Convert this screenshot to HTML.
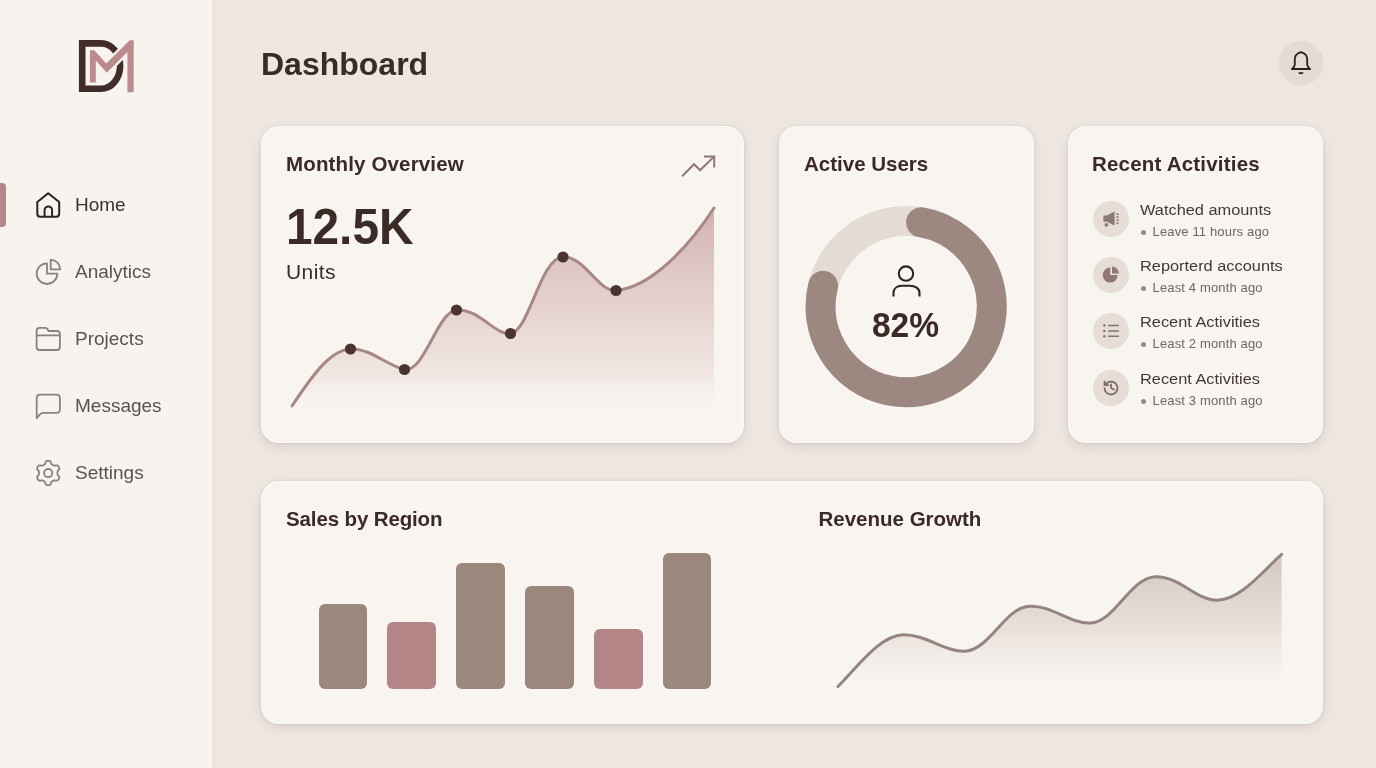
<!DOCTYPE html>
<html><head><meta charset="utf-8">
<style>
*{margin:0;padding:0;box-sizing:border-box}
html,body{width:1376px;height:768px;overflow:hidden}
body{will-change:transform;background:#ede6e1;font-family:"Liberation Sans",Arial,sans-serif;color:#3a2b29;position:relative}
.abs{position:absolute}
svg{overflow:visible}
#side{left:0;top:0;width:209px;height:768px;background:#f7f4ef;box-shadow:3.5px 0 0 #fbf3ee,4.5px 0 2px rgba(150,120,110,0.07)}
.nav{position:absolute;left:75px;font-size:19px;color:#5d5250;white-space:nowrap;line-height:22px}
.card{position:absolute;background:#f8f4f0;border-radius:18px;box-shadow:0 4px 10px rgba(120,90,80,0.15),0 0 2.5px rgba(110,90,80,0.16),inset 0 0 0 1px rgba(255,251,247,0.6)}
.title{position:absolute;font-size:20.5px;font-weight:bold;color:#3a2a28;white-space:nowrap;line-height:24px}
.act{position:absolute;left:1068px;width:255px;height:40px}
.act .ic{position:absolute;left:25px;top:0;width:36px;height:36px;border-radius:50%;background:#e6ddd6}
.act .ic svg{position:absolute;left:0;top:0}
.act .t1{position:absolute;left:72px;top:0.4px;font-size:15.5px;transform:scaleX(1.055);transform-origin:0 0;color:#453835;white-space:nowrap}
.act .t2{position:absolute;left:84.5px;top:23.4px;font-size:13px;letter-spacing:0.15px;color:#716562;white-space:nowrap}
.act .t2 i{position:absolute;left:-12px;top:6px;width:5px;height:5px;border-radius:50%;background:#958986}
.bar{position:absolute;width:48.5px;border-radius:6px;background:#9c877d}
.bar.p{background:#b48587}
</style></head>
<body>
<div id="side" class="abs"></div>
<div class="abs" style="left:0;top:183px;width:6px;height:43.6px;background:#b5878a;border-radius:0 4px 4px 0"></div>
<svg class="abs" style="left:0;top:0" width="212" height="768" viewBox="0 0 212 768">
  <!-- logo -->
  <path d="M82.2 43.35 H101 A19.1 22.67 0 0 1 101 88.7 H82.2 Z" fill="none" stroke="#412c29" stroke-width="6.6" stroke-linejoin="miter"/>
  <path d="M106.5 68.2 L128.5 46.2" stroke="#f7f4ef" stroke-width="11.5" fill="none"/>
  <path d="M89.9 50.3 L94.3 50.3 L106.3 63.6 L129.7 40.3 L133.7 40.3 L133.7 92.2 L127.4 92.2 L127.4 52.1 L106.8 72.7 L95.8 60.6 L95.8 82.5 L89.9 82.5 Z" fill="#bb8b8d"/>
  <!-- home -->
  <g fill="none" stroke="#2e2220" stroke-width="2" stroke-linejoin="round">
    <path d="M37.3 202 L48.2 193.2 L59.2 202 V213.7 Q59.2 216.7 56.2 216.7 H40.3 Q37.3 216.7 37.3 213.7 Z"/>
    <path d="M44.6 216.7 V210.2 A3.75 3.75 0 0 1 52.1 210.2 V216.7"/>
  </g>
  <g fill="none" stroke="#8c817e" stroke-width="1.8" stroke-linejoin="round">
    <!-- analytics -->
    <path d="M47 263.4 A10.3 10.3 0 1 0 57.3 273.7 H47 Z"/>
    <path d="M50.7 259.6 A9.8 9.8 0 0 1 60.2 269.4 H50.7 Z"/>
    <!-- projects -->
    <path d="M36.6 331 Q36.6 327.9 39.6 327.9 H45.5 Q46.8 327.9 47.5 329 L48.6 331 H56.9 Q59.9 331 59.9 334 V347 Q59.9 350 56.9 350 H39.6 Q36.6 350 36.6 347 Z"/>
    <path d="M36.6 335.4 H59.9"/>
    <!-- messages -->
    <path d="M36.7 418.2 V398.2 Q36.7 394.7 40.2 394.7 H56.4 Q59.9 394.7 59.9 398.2 V409.4 Q59.9 412.9 56.4 412.9 H43.5 Q41.2 412.9 39.8 414.6 Z"/>
    <!-- settings -->
    <path d="M48.2 460.9 L49.0 460.9 L49.8 461.0 L50.5 461.5 L51.0 462.7 L51.3 463.8 L51.8 464.4 L52.3 464.7 L52.8 465.0 L53.3 465.3 L53.9 465.6 L54.6 465.7 L55.8 465.4 L57.0 465.3 L57.8 465.7 L58.3 466.3 L58.7 466.9 L59.1 467.6 L59.3 468.4 L59.3 469.2 L58.5 470.2 L57.7 471.1 L57.5 471.8 L57.4 472.4 L57.5 473.0 L57.4 473.6 L57.5 474.2 L57.7 474.9 L58.5 475.8 L59.3 476.8 L59.3 477.6 L59.1 478.4 L58.7 479.1 L58.3 479.7 L57.8 480.3 L57.0 480.7 L55.8 480.6 L54.6 480.3 L53.9 480.4 L53.3 480.7 L52.8 481.0 L52.3 481.3 L51.8 481.6 L51.3 482.2 L51.0 483.3 L50.5 484.5 L49.8 485.0 L49.0 485.1 L48.2 485.1 L47.4 485.1 L46.6 485.0 L45.9 484.5 L45.4 483.3 L45.1 482.2 L44.6 481.6 L44.1 481.3 L43.6 481.0 L43.1 480.7 L42.5 480.4 L41.8 480.3 L40.6 480.6 L39.4 480.7 L38.6 480.3 L38.1 479.7 L37.7 479.1 L37.3 478.4 L37.1 477.6 L37.1 476.8 L37.9 475.8 L38.7 474.9 L38.9 474.2 L39.0 473.6 L39.0 473.0 L39.0 472.4 L38.9 471.8 L38.7 471.1 L37.9 470.2 L37.1 469.2 L37.1 468.4 L37.3 467.6 L37.7 466.9 L38.1 466.3 L38.6 465.7 L39.4 465.3 L40.6 465.4 L41.8 465.7 L42.5 465.6 L43.1 465.3 L43.6 465.0 L44.1 464.7 L44.6 464.4 L45.1 463.8 L45.4 462.7 L45.9 461.5 L46.6 461.0 L47.4 460.9 Z"/>
    <circle cx="48.2" cy="473.1" r="4.1"/>
  </g>
</svg>
<div class="nav" style="top:194px;color:#3d302d">Home</div>
<div class="nav" style="top:261px">Analytics</div>
<div class="nav" style="top:328px">Projects</div>
<div class="nav" style="top:395px">Messages</div>
<div class="nav" style="top:462px">Settings</div>

<div class="abs" style="left:261px;top:46px;font-size:32px;font-weight:bold;color:#3a2a28">Dashboard</div>

<div class="abs" style="left:1279px;top:41px;width:44px;height:44px;border-radius:50%;background:#e3dbd5;box-shadow:0 0 1px rgba(120,100,90,0.08)"></div>
<svg class="abs" style="left:0;top:0" width="1" height="1">
  <path d="M1294.8 64.8 V59 C1294.8 55.4 1297.2 53.3 1301 52.2 C1304.8 53.3 1307.2 55.4 1307.2 59 V64.8 C1307.2 66.3 1308.9 67.6 1310.1 69 H1291.9 C1293.1 67.6 1294.8 66.3 1294.8 64.8 Z" fill="none" stroke="#2a1f1d" stroke-width="1.8" stroke-linejoin="round"/>
  <path d="M1298.3 72.2 H1303.5 A2.6 2.1 0 0 1 1298.3 72.2 Z" fill="#2a1f1d"/>
</svg>

<!-- cards -->
<div class="card" style="left:261px;top:126px;width:483px;height:317px"></div>
<div class="card" style="left:779px;top:126px;width:255px;height:317px"></div>
<div class="card" style="left:1068px;top:126px;width:255px;height:317px"></div>
<div class="card" style="left:261px;top:481px;width:1062px;height:243px"></div>

<div class="title" style="left:286px;top:152px;letter-spacing:0.15px">Monthly Overview</div>
<div class="abs" style="left:286px;top:197.7px;font-size:50px;font-weight:bold;letter-spacing:0;transform:scaleX(0.955);transform-origin:0 0;color:#3a2a28">12.5K</div>
<div class="abs" style="left:286px;top:260.4px;font-size:21px;letter-spacing:0.4px;color:#3a2d2b">Units</div>

<div class="title" style="left:804px;top:152px">Active Users</div>
<div class="abs" style="left:778px;top:304.9px;width:255px;text-align:center;font-size:35px;font-weight:bold;transform:scaleX(0.957);color:#3a2a28">82%</div>

<div class="title" style="left:1092px;top:152px;letter-spacing:0.2px">Recent Activities</div>
<div class="act" style="top:200.5px">
  <div class="ic"><svg width="36" height="36" viewBox="0 0 36 36"><g fill="#8c7874"><path d="M10.4 14.6 H13.8 L21.6 10.6 V24.6 L13.8 20.8 H10.4 Z"/><circle cx="13.4" cy="23.8" r="1.9"/><rect x="23.3" y="12.4" width="2.4" height="1.5"/><rect x="23.3" y="15.4" width="2.4" height="1.5"/><rect x="23.3" y="18.4" width="2.4" height="1.5"/><rect x="23.3" y="21.4" width="2.4" height="1.5"/></g></svg></div>
  <div class="t1">Watched amounts</div><div class="t2"><i></i>Leave 11 hours ago</div>
</div>
<div class="act" style="top:256.7px">
  <div class="ic"><svg width="36" height="36" viewBox="0 0 36 36"><path d="M17.2 10.6 A7.5 7.5 0 1 0 24.7 18.1 H17.2 Z" fill="#917874"/><path d="M19 9.6 A7 7 0 0 1 26 16.6 H19 Z" fill="#917874"/></svg></div>
  <div class="t1">Reporterd accounts</div><div class="t2"><i></i>Least 4 month ago</div>
</div>
<div class="act" style="top:313px">
  <div class="ic"><svg width="36" height="36" viewBox="0 0 36 36"><g fill="#85736f"><circle cx="11.3" cy="12.4" r="1.2"/><circle cx="11.3" cy="17.9" r="1.2"/><circle cx="11.3" cy="23.3" r="1.2"/><rect x="15" y="11.7" width="11" height="1.5" rx=".7"/><rect x="15" y="17.2" width="11" height="1.5" rx=".7"/><rect x="15" y="22.6" width="11" height="1.5" rx=".7"/></g></svg></div>
  <div class="t1">Recent Activities</div><div class="t2"><i></i>Least 2 month ago</div>
</div>
<div class="act" style="top:369.5px">
  <div class="ic"><svg width="36" height="36" viewBox="0 0 36 36"><g fill="none" stroke="#7d6b68" stroke-width="1.8" stroke-linecap="round" stroke-linejoin="round" transform="translate(9.4 9.4) scale(0.72)"><path d="M3 12a9 9 0 1 0 9-9 9.75 9.75 0 0 0-6.74 2.74L3 8" stroke-width="2.5"/><path d="M3 3v5h5" stroke-width="2.5"/><path d="M12 7v5l4 2" stroke-width="2.5"/></g></svg></div>
  <div class="t1">Recent Activities</div><div class="t2"><i></i>Least 3 month ago</div>
</div>

<div class="title" style="left:286px;top:507px;letter-spacing:-0.13px">Sales by Region</div>
<div class="title" style="left:818.5px;top:507px;letter-spacing:0px">Revenue Growth</div>
<div class="bar" style="left:318.6px;top:603.7px;height:85px"></div>
<div class="bar p" style="left:387.1px;top:622.2px;height:66.5px"></div>
<div class="bar" style="left:456px;top:563.2px;height:125.5px"></div>
<div class="bar" style="left:525px;top:585.6px;height:103px"></div>
<div class="bar p" style="left:594px;top:628.7px;height:60px"></div>
<div class="bar" style="left:662.5px;top:552.8px;height:136px"></div>

<svg class="abs" style="left:0;top:0" width="1376" height="768" viewBox="0 0 1376 768">
  <defs>
    <linearGradient id="g1" x1="0" y1="205" x2="0" y2="410" gradientUnits="userSpaceOnUse">
      <stop offset="0" stop-color="#c9a5a3" stop-opacity="0.85"/>
      <stop offset="0.5" stop-color="#d9bebb" stop-opacity="0.62"/>
      <stop offset="0.82" stop-color="#e6d4d0" stop-opacity="0.45"/>
      <stop offset="1" stop-color="#f3ebe7" stop-opacity="0"/>
    </linearGradient>
    <linearGradient id="g2" x1="0" y1="555" x2="0" y2="690" gradientUnits="userSpaceOnUse">
      <stop offset="0" stop-color="#cfc2bb" stop-opacity="0.9"/>
      <stop offset="0.55" stop-color="#ddd2cc" stop-opacity="0.6"/>
      <stop offset="1" stop-color="#f3ede8" stop-opacity="0"/>
    </linearGradient>
  </defs>
  <path d="M292 406 C312 376 330 350 350.5 349 C370 348 388 366 404.5 369.5 C425 372 437 312 456.5 310 C478 308 496 336 510.5 333.5 C530 330 540 258 563 257 C585 256 598 292 616 290.5 C652 287 690 245 714 208 V410 H292 Z" fill="url(#g1)"/>
  <path d="M292 406 C312 376 330 350 350.5 349 C370 348 388 366 404.5 369.5 C425 372 437 312 456.5 310 C478 308 496 336 510.5 333.5 C530 330 540 258 563 257 C585 256 598 292 616 290.5 C652 287 690 245 714 208" fill="none" stroke="#a88785" stroke-width="3" stroke-linecap="round"/>
  <g fill="#4a3431">
    <circle cx="350.5" cy="349" r="5.6"/><circle cx="404.5" cy="369.5" r="5.6"/><circle cx="456.5" cy="310" r="5.6"/><circle cx="510.5" cy="333.5" r="5.6"/><circle cx="563" cy="257" r="5.6"/><circle cx="616" cy="290.5" r="5.6"/>
  </g>
  <path d="M682.1 176.3 L694.1 164.2 L700.1 170.3 L714 156.6 M703.9 156.4 H714.2 V167.4" fill="none" stroke="#8f7775" stroke-width="2"/>

  <!-- donut -->
  <circle cx="906.2" cy="306.6" r="85.6" fill="none" stroke="#e4dbd4" stroke-width="30"/>
  <path d="M921.1 222.3 A85.6 85.6 0 1 1 823.1 285.9" fill="none" stroke="#9c8781" stroke-width="30" stroke-linecap="round"/>
  <g fill="none" stroke="#2e2220" stroke-width="2.1"><circle cx="906" cy="273.6" r="7.2"/><path d="M893.5 296.5 V293 C893.5 288.5 897 285.8 902 285.8 H910 C915 285.8 919.5 288.5 919.5 293 V296.5"/></g>

  <!-- revenue growth -->
  <path d="M838 686.5 C860 664 880 636 902.8 634.8 C925 634 945 652 964.8 651.3 C990 650 1005 607 1029.6 606.2 C1052 605 1070 624 1090.4 623 C1115 622 1130 578 1155.2 576.7 C1180 576 1195 600 1216.8 600.3 C1240 600 1260 574 1281.6 554.4 V690 H838 Z" fill="url(#g2)"/>
  <path d="M838 686.5 C860 664 880 636 902.8 634.8 C925 634 945 652 964.8 651.3 C990 650 1005 607 1029.6 606.2 C1052 605 1070 624 1090.4 623 C1115 622 1130 578 1155.2 576.7 C1180 576 1195 600 1216.8 600.3 C1240 600 1260 574 1281.6 554.4" fill="none" stroke="#958580" stroke-width="3" stroke-linecap="round"/>
</svg>
</body></html>
